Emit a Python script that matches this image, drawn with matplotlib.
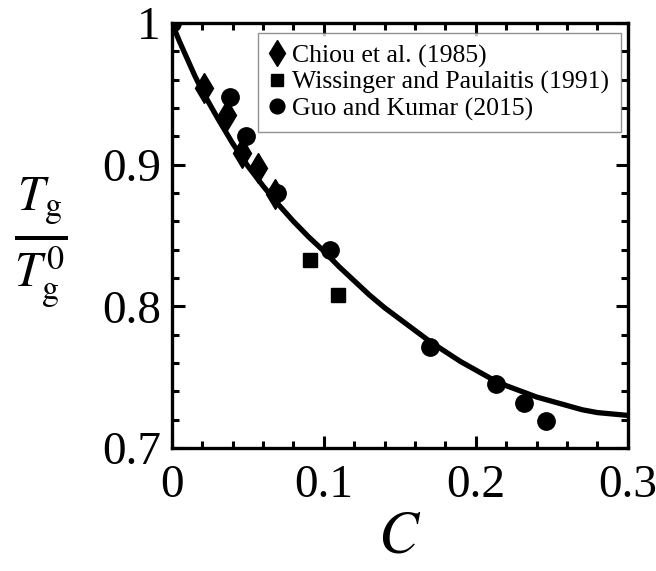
import matplotlib
matplotlib.use('Agg')
import matplotlib.pyplot as plt
from matplotlib.ticker import MultipleLocator, FuncFormatter

plt.rcParams['font.family'] = ['Liberation Serif', 'DejaVu Serif']
plt.rcParams['mathtext.fontset'] = 'stix'

# Chiou et al. (1985)
chiou_c = [0.021, 0.036, 0.046, 0.057, 0.068]
chiou_t = [0.954, 0.935, 0.908, 0.898, 0.879]
# Wissinger and Paulaitis (1991)
wiss_c = [0.091, 0.109]
wiss_t = [0.833, 0.808]
# Guo and Kumar (2015)
guo_c = [0.0, 0.038, 0.049, 0.069, 0.104, 0.170, 0.213, 0.2315, 0.246]
guo_t = [1.0, 0.948, 0.920, 0.880, 0.840, 0.771, 0.745, 0.732, 0.719]
# model curve
curve_c = [0, 0.005, 0.01, 0.015, 0.02, 0.03, 0.04, 0.05, 0.06, 0.07, 0.08,
           0.09, 0.10, 0.11, 0.12, 0.13, 0.14, 0.15, 0.16, 0.17, 0.18, 0.19,
           0.20, 0.21, 0.22, 0.23, 0.24, 0.25, 0.26, 0.27, 0.28, 0.29, 0.30]
curve_t = [1.000, 0.987, 0.975, 0.963, 0.952, 0.933, 0.915, 0.899, 0.885,
           0.872, 0.860, 0.849, 0.839, 0.828, 0.818, 0.808, 0.799, 0.791,
           0.783, 0.775, 0.768, 0.761, 0.755, 0.749, 0.744, 0.740, 0.736,
           0.733, 0.730, 0.727, 0.725, 0.724, 0.723]

fig = plt.figure(figsize=(6.56, 5.71), dpi=100)
ax = fig.add_axes([0.262, 0.2154, 0.695, 0.7443])

ax.plot(curve_c, curve_t, color='black', lw=3.8, zorder=2,
        solid_joinstyle='round')
ax.plot(chiou_c, chiou_t, 'd', color='black', ms=15, ls='none',
        label='Chiou et al. (1985)', zorder=3)
ax.plot(wiss_c, wiss_t, 's', color='black', ms=10, ls='none',
        label='Wissinger and Paulaitis (1991)', zorder=3)
ax.plot(guo_c, guo_t, 'o', color='black', ms=12.5, ls='none',
        label='Guo and Kumar (2015)', zorder=3)

ax.set_xlim(0, 0.3)
ax.set_ylim(0.7, 1.0)
ax.xaxis.set_major_locator(MultipleLocator(0.1))
ax.xaxis.set_minor_locator(MultipleLocator(0.02))
ax.yaxis.set_major_locator(MultipleLocator(0.1))
ax.yaxis.set_minor_locator(MultipleLocator(0.02))
fmt = FuncFormatter(lambda v, p: '%g' % round(v, 2))
ax.xaxis.set_major_formatter(fmt)
ax.yaxis.set_major_formatter(fmt)

ax.tick_params(which='both', direction='in', top=True, right=True, width=2.2)
ax.tick_params(which='major', length=9, labelsize=34)
ax.tick_params(axis='x', which='major', pad=12)
ax.tick_params(axis='y', which='major', pad=8)
ax.tick_params(which='minor', length=5)
for s in ax.spines.values():
    s.set_linewidth(2.4)

ax.set_xlabel(r'$C$', fontsize=43, labelpad=3)
fig.text(0.062, 0.575, r'$\frac{T_{\rm g}}{T_{\rm g}^{0}}$', fontsize=50,
         ha='center', va='center')

leg = ax.legend(loc='upper right', fontsize=18.5, frameon=True, fancybox=False,
                handlelength=0.6, handletextpad=0.3, borderpad=0.45,
                labelspacing=0.12, markerscale=0.85, borderaxespad=0.0,
                bbox_to_anchor=(0.985, 0.977))
leg.get_frame().set_edgecolor('#777777')
leg.get_frame().set_linewidth(1.0)

fig.savefig('out.png', dpi=100)
